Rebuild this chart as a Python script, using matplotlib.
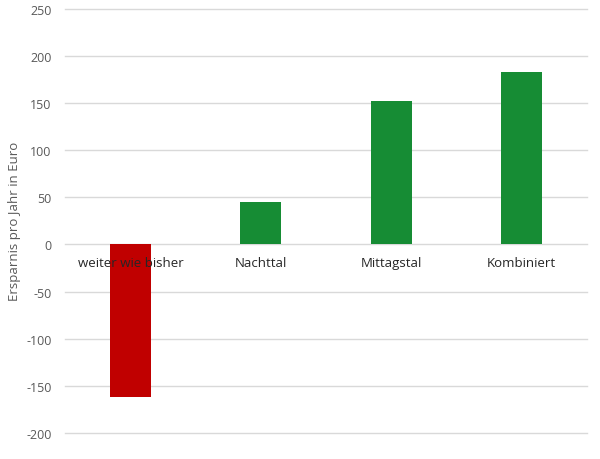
import matplotlib
matplotlib.use("Agg")
import matplotlib.pyplot as plt

# Daten
categories = ["weiter wie bisher", "Nachttal", "Mittagstal", "Kombiniert"]
savings = [-162, 45, 152, 183]
bar_colors = ["#C00000", "#168C34", "#168C34", "#168C34"]
y_ticks = [-200, -150, -100, -50, 0, 50, 100, 150, 200, 250]

plt.rcParams["font.family"] = ["Open Sans", "DejaVu Sans"]

fig = plt.figure(figsize=(6, 4.6), dpi=100)
ax = fig.add_axes([0.109, 0.0565, 0.8685, 0.9225])

x = list(range(len(categories)))
ax.bar(x, savings, width=0.315, color=bar_colors, zorder=2)

ax.set_xlim(-0.5, len(categories) - 0.5)
ax.set_ylim(-200, 250)
ax.set_yticks(y_ticks)
ax.set_yticklabels([str(v) for v in y_ticks], color="#595959", fontsize=9)
ax.tick_params(axis="y", length=0, pad=10)
ax.set_xticks([])
ax.grid(True, axis="y", color="#d9d9d9", linewidth=1, zorder=0)
for line in ax.get_ygridlines():
    line.set_clip_on(False)
for s in ax.spines.values():
    s.set_visible(False)

# Kategorienbeschriftung auf der Nulllinie
for xi, name in zip(x, categories):
    ax.text(xi, -12, name, ha="center", va="top", fontsize=9.5,
            color="#262626", zorder=3)

ax.set_ylabel("Ersparnis pro Jahr in Euro", color="#595959", fontsize=9.5)
ax.yaxis.set_label_coords(-0.085, 0.5)

fig.savefig("out.png", dpi=100)
